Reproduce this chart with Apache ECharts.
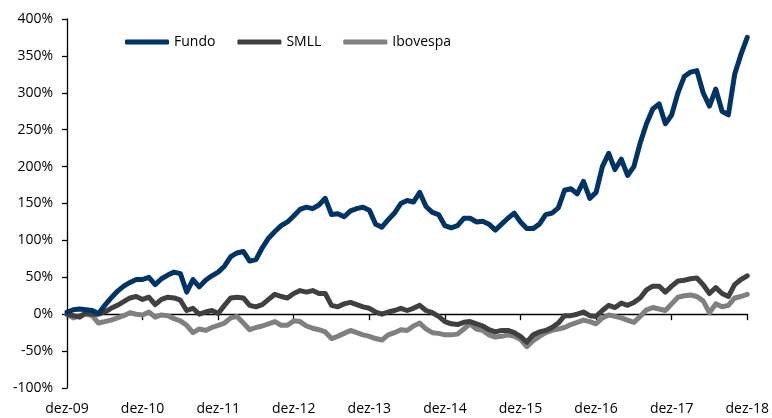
<!DOCTYPE html>
<html>
<head>
<meta charset="utf-8">
<script src="https://cdn.jsdelivr.net/npm/echarts@6/dist/echarts.min.js"></script>
<style>
html,body{margin:0;padding:0;background:#fff;}
#chart{width:772px;height:418px;}
</style>
</head>
<body>
<div id="chart"></div>
<script>
// Monthly observations from dez-09 to dez-18 (cumulative return, %)
const monthNames = ['jan','fev','mar','abr','mai','jun','jul','ago','set','out','nov','dez'];
const startYear = 2009, startMonth = 11; // dez-09
const nPoints = 109;
const categories = [];
for (let i = 0; i < nPoints; i++) {
  const m = (startMonth + i) % 12;
  const y = startYear + Math.floor((startMonth + i) / 12);
  categories.push(monthNames[m] + '-' + String(y % 100).padStart(2, '0'));
}

const fundo = [
  3, 6, 7, 6, 5, 1, 12, 22, 31, 38, 43, 47,
  47, 50, 40, 48, 53, 57, 55, 30, 47, 37, 46, 52,
  57, 65, 78, 83, 85, 72, 74, 90, 103, 112, 120, 125,
  133, 142, 145, 143, 148, 157, 135, 136, 132, 140, 143, 145,
  141, 122, 118, 128, 137, 150, 154, 152, 165, 146, 138, 135,
  120, 117, 120, 130, 130, 125, 126, 122, 114, 122, 130, 137,
  125, 116, 116, 122, 135, 137, 144, 168, 170, 163, 180, 157,
  165, 200, 218, 196, 210, 188, 200, 232, 258, 278, 285, 258,
  270, 300, 322, 328, 330, 300, 282, 305, 275, 270, 325, 352,
  375
];
const smll = [
  0, -2, -4, 2, 0, 0, 3, 8, 12, 17, 22, 24,
  20, 23, 13, 20, 23, 22, 19, 5, 8, 0, 3, 5,
  1, 12, 22, 23, 22, 12, 10, 13, 20, 27, 24, 22,
  28, 32, 30, 32, 28, 28, 12, 10, 14, 16, 13, 10,
  8, 3, 0, 3, 5, 8, 5, 8, 12, 5, 2, -3,
  -10, -13, -14, -11, -10, -13, -16, -21, -24, -22, -22, -25,
  -30, -38, -28, -24, -22, -18, -12, -2, -2, 0, 3, -2,
  -3, 5, 12, 9, 15, 12, 16, 22, 33, 38, 38, 30,
  38, 45, 46, 48, 49, 40, 28, 36, 28, 24, 40, 47,
  52
];
const ibovespa = [
  0, -5, -2, 0, -2, -12, -10, -8, -5, -2, 2, 0,
  -1, 3, -4, -1, -2, -6, -9, -15, -25, -20, -22, -18,
  -15, -12, -5, -3, -12, -21, -18, -16, -13, -10, -15, -15,
  -9, -10, -16, -19, -21, -24, -33, -30, -26, -22, -25, -28,
  -30, -33, -35, -28, -25, -21, -22, -16, -12, -20, -25, -26,
  -28, -28, -27, -20, -13, -20, -22, -28, -31, -30, -28, -30,
  -34, -44, -36, -30, -25, -22, -20, -18, -14, -11, -8, -10,
  -13, -5, -1, -3, -5, -8, -11, -3, 6, 9, 7, 5,
  14, 23, 25, 26, 24, 18, 2, 14, 10, 12, 22, 24,
  27
];
const seriesNames = ['Fundo', 'SMLL', 'Ibovespa'];
const seriesColors = ['#003366', '#404040', '#808080'];
const yTicks = { min: -100, max: 400, interval: 50 };

const FONT = 'Open Sans';
const chart = echarts.init(document.getElementById('chart'), null, { renderer: 'canvas' });
const values = [fundo, smll, ibovespa];

chart.setOption({
  animation: false,
  backgroundColor: '#ffffff',
  grid: { left: 67, right: 19, top: 19, bottom: 30, containLabel: false },
  legend: {
    left: 120, top: 30,
    icon: 'roundRect',
    itemWidth: 44, itemHeight: 5,
    itemGap: 22,
    textStyle: { fontFamily: FONT, fontSize: 14, color: '#000' },
    data: seriesNames
  },
  xAxis: [
    {
      type: 'category', data: categories, boundaryGap: false,
      position: 'bottom',
      axisLine: { onZero: true, lineStyle: { color: '#000', width: 1.3 } },
      axisTick: { show: true, interval: 11, length: 6, lineStyle: { color: '#000', width: 1.3 } },
      axisLabel: { show: false },
      splitLine: { show: false }
    },
    {
      type: 'category', data: categories, boundaryGap: false,
      position: 'bottom',
      axisLine: { show: false, onZero: false },
      axisTick: { show: false },
      axisLabel: {
        show: true, interval: 11, margin: 14, fontFamily: FONT, fontSize: 14, color: '#000',
        alignMinLabel: 'center', alignMaxLabel: 'center', hideOverlap: false
      },
      splitLine: { show: false }
    }
  ],
  yAxis: {
    type: 'value', min: yTicks.min, max: yTicks.max, interval: yTicks.interval,
    axisLine: { show: true, lineStyle: { color: '#000', width: 1.3 } },
    axisTick: { show: true, length: 5, lineStyle: { color: '#000', width: 1.3 } },
    axisLabel: { formatter: '{value}%', margin: 14, fontFamily: FONT, fontSize: 14, color: '#000' },
    splitLine: { show: false }
  },
  series: seriesNames.map((name, k) => ({
    name: name,
    type: 'line',
    xAxisIndex: 0,
    data: values[k],
    showSymbol: false,
    symbol: 'none',
    color: seriesColors[k],
    lineStyle: { width: 5, color: seriesColors[k], cap: 'round', join: 'round' },
    z: 3 - k
  }))
});
</script>
</body>
</html>
